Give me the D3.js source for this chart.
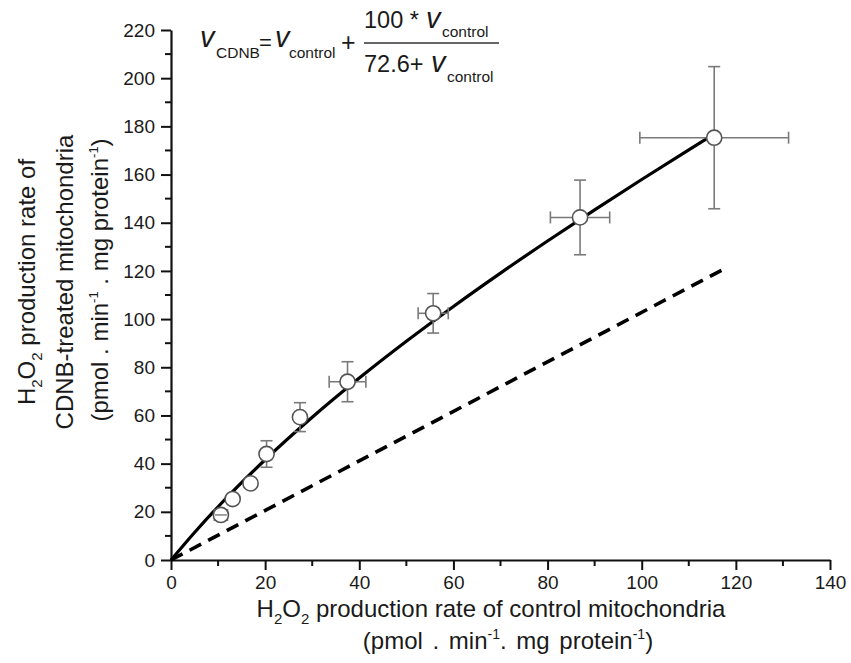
<!DOCTYPE html>
<html>
<head>
<meta charset="utf-8">
<script src="https://cdn.jsdelivr.net/npm/d3@7"></script>
<style>
  html, body { margin: 0; padding: 0; background: #fff; }
  text { font-family: "Liberation Sans", Arial, sans-serif; fill: #1a1a1a; }
</style>
</head>
<body>
<svg id="chart" width="851" height="663"></svg>
<script>
// ---- data ----
const xValues = [10.6, 13.1, 16.9, 20.3, 27.4, 37.5, 55.7, 86.9, 115.4];
const yValues = [18.7, 25.3, 31.8, 44.0, 59.3, 74.0, 102.4, 142.2, 175.3];
const xErrors = [1.4, 0.8, 0.8, 1.0, 1.0, 3.9, 3.2, 6.3, 15.8];
const yErrors = [2.0, 1.5, 1.5, 5.5, 6.0, 8.3, 8.2, 15.5, 29.5];

// fitted curve v_CDNB = v + 100 v / (72.6 + v), values read at sample points
const fitX = [0, 5, 10, 20, 30, 40, 50, 60, 70, 80, 90, 100, 110, 115.4];
const fitY = [0, 11.44, 22.11, 41.60, 59.24, 75.52, 90.78, 105.25, 119.09, 132.42, 145.35, 157.94, 170.24, 176.8];

// reference (dashed) line
const identX = [0, 117.5];
const identY = [0, 120.8];

const xTicks = [0, 20, 40, 60, 80, 100, 120, 140];
const yTicks = [0, 20, 40, 60, 80, 100, 120, 140, 160, 180, 200, 220];

// ---- scales ----
const svg = d3.select("#chart");
const x = d3.scaleLinear().domain([0, 140]).range([171, 830]);
const y = d3.scaleLinear().domain([0, 220]).range([560, 30]);

// ---- axes ----
const xAxis = d3.axisBottom(x).tickValues(xTicks).tickSize(10).tickSizeOuter(0).tickPadding(6);
const yAxis = d3.axisLeft(y).tickValues(yTicks).tickSize(10).tickSizeOuter(0).tickPadding(6);

// minor ticks
const xMinor = d3.range(10, 140, 20);
const yMinor = d3.range(10, 220, 20);
svg.append("g").selectAll("line").data(xMinor).join("line")
  .attr("x1", d => x(d)).attr("x2", d => x(d))
  .attr("y1", 560).attr("y2", 566)
  .attr("stroke", "#111").attr("stroke-width", 2);
svg.append("g").selectAll("line").data(yMinor).join("line")
  .attr("y1", d => y(d)).attr("y2", d => y(d))
  .attr("x1", 171).attr("x2", 165)
  .attr("stroke", "#111").attr("stroke-width", 2);

const gx = svg.append("g").attr("transform", "translate(0,560)").call(xAxis);
const gy = svg.append("g").attr("transform", "translate(171,0)").call(yAxis);
[gx, gy].forEach(g => {
  g.select(".domain").attr("stroke", "#111").attr("stroke-width", 2.2);
  g.selectAll(".tick line").attr("stroke", "#111").attr("stroke-width", 2);
  g.selectAll(".tick text").attr("font-size", 19).attr("font-family", "Liberation Sans, Arial, sans-serif").attr("fill", "#1a1a1a");
});

// ---- lines ----
const line = d3.line().x(d => x(d[0])).y(d => y(d[1]));
svg.append("path")
  .datum(identX.map((v, i) => [v, identY[i]]))
  .attr("d", line)
  .attr("fill", "none").attr("stroke", "#000").attr("stroke-width", 3.6)
  .attr("stroke-dasharray", "13,8");

svg.append("path")
  .datum(fitX.map((v, i) => [v, fitY[i]]))
  .attr("d", line.curve(d3.curveMonotoneX))
  .attr("fill", "none").attr("stroke", "#000").attr("stroke-width", 3.2);

// ---- error bars ----
const pts = xValues.map((v, i) => ({x: v, y: yValues[i], ex: xErrors[i], ey: yErrors[i]}));
const cap = 6;
const eb = svg.append("g").attr("stroke", "#7a7a7a").attr("stroke-width", 1.6).attr("fill", "none");
pts.forEach(p => {
  eb.append("line").attr("x1", x(p.x)).attr("x2", x(p.x)).attr("y1", y(p.y - p.ey)).attr("y2", y(p.y + p.ey));
  eb.append("line").attr("x1", x(p.x) - cap).attr("x2", x(p.x) + cap).attr("y1", y(p.y - p.ey)).attr("y2", y(p.y - p.ey));
  eb.append("line").attr("x1", x(p.x) - cap).attr("x2", x(p.x) + cap).attr("y1", y(p.y + p.ey)).attr("y2", y(p.y + p.ey));
  eb.append("line").attr("x1", x(p.x - p.ex)).attr("x2", x(p.x + p.ex)).attr("y1", y(p.y)).attr("y2", y(p.y));
  eb.append("line").attr("x1", x(p.x - p.ex)).attr("x2", x(p.x - p.ex)).attr("y1", y(p.y) - cap).attr("y2", y(p.y) + cap);
  eb.append("line").attr("x1", x(p.x + p.ex)).attr("x2", x(p.x + p.ex)).attr("y1", y(p.y) - cap).attr("y2", y(p.y) + cap);
});

// ---- markers ----
svg.append("g").selectAll("circle").data(pts).join("circle")
  .attr("cx", d => x(d.x)).attr("cy", d => y(d.y)).attr("r", 7.6)
  .attr("fill", "#fff").attr("stroke", "#555").attr("stroke-width", 1.6);
const p0 = pts[0];
svg.append("line").attr("x1", x(p0.x) - 6).attr("x2", x(p0.x) + 6).attr("y1", y(p0.y)).attr("y2", y(p0.y))
  .attr("stroke", "#7a7a7a").attr("stroke-width", 1.4);

// ---- equation ----
const eq = svg.append("g");
function txt(xp, yp, s, size, italic) {
  const t = eq.append("text").attr("x", xp).attr("y", yp).attr("font-size", size).text(s);
  if (italic) t.attr("font-style", "italic");
  return t;
}
txt(200, 47, "v", 29, true);
txt(216, 58, "CDNB", 15.5);
txt(259, 50, "=", 22);
txt(275, 47, "v", 29, true);
txt(289, 58, "control", 15.5);
txt(341, 51, "+", 25);
txt(364, 28, "100 *", 23.5);
txt(426, 28, "v", 29, true);
txt(442, 37, "control", 15.5);
eq.append("line").attr("x1", 364).attr("x2", 499).attr("y1", 43).attr("y2", 43)
  .attr("stroke", "#333").attr("stroke-width", 1.3);
txt(364, 72, "72.6+", 23.5);
txt(431, 72, "v", 29, true);
txt(447, 82, "control", 15.5);

// ---- axis titles ----
const TF = 24;
const xt1 = svg.append("text").attr("x", 491).attr("y", 617).attr("text-anchor", "middle").attr("font-size", TF);
xt1.append("tspan").text("H");
xt1.append("tspan").text("2").attr("font-size", 15).attr("dy", 7);
xt1.append("tspan").text("O").attr("dy", -7);
xt1.append("tspan").text("2").attr("font-size", 15).attr("dy", 7);
xt1.append("tspan").text(" production rate of control mitochondria").attr("dy", -7);

const xt2 = svg.append("text").attr("x", 508).attr("y", 649).attr("text-anchor", "middle").attr("font-size", TF)
  .attr("word-spacing", 3);
xt2.append("tspan").text("(pmol . min");
xt2.append("tspan").text("-1").attr("font-size", 14).attr("dy", -10);
xt2.append("tspan").text(". mg protein").attr("dy", 10);
xt2.append("tspan").text("-1").attr("font-size", 14).attr("dy", -10);
xt2.append("tspan").text(")").attr("dy", 10);

const cy = 282;
const yt1 = svg.append("text").attr("transform", `translate(35,${cy}) rotate(-90)`).attr("text-anchor", "middle").attr("font-size", TF);
yt1.append("tspan").text("H");
yt1.append("tspan").text("2").attr("font-size", 15).attr("dy", 7);
yt1.append("tspan").text("O").attr("dy", -7);
yt1.append("tspan").text("2").attr("font-size", 15).attr("dy", 7);
yt1.append("tspan").text(" production rate of").attr("dy", -7);

svg.append("text").attr("transform", `translate(73,${cy}) rotate(-90)`).attr("text-anchor", "middle").attr("font-size", TF)
  .text("CDNB-treated mitochondria");

const yt3 = svg.append("text").attr("transform", `translate(108,${cy - 2}) rotate(-90)`).attr("text-anchor", "middle").attr("font-size", TF);
yt3.append("tspan").text("(pmol . min");
yt3.append("tspan").text("-1").attr("font-size", 13).attr("dy", -10);
yt3.append("tspan").text(" . mg protein").attr("dy", 10);
yt3.append("tspan").text("-1").attr("font-size", 13).attr("dy", -10);
yt3.append("tspan").text(")").attr("dy", 10);
</script>
</body>
</html>
